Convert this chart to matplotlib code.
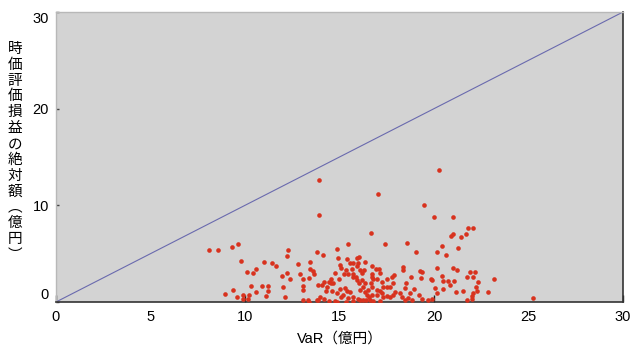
import matplotlib
matplotlib.use("Agg")
import matplotlib.pyplot as plt
from matplotlib.ticker import FixedLocator

# ---- data ----
var_oku = [
    13.93, 13.93, 8.11, 8.59, 9.33, 9.63, 9.80, 10.12, 10.44, 10.60,
    11.02, 11.44, 11.64, 12.29, 12.24, 12.79, 12.24, 12.37, 11.94, 12.91,
    13.08, 13.40, 13.46, 13.83, 14.13, 13.46, 13.62, 13.65, 14.85, 14.90,
    15.38, 15.45, 15.04, 15.06, 14.76, 15.22, 15.47, 14.97, 14.55, 14.20,
    14.43, 14.53, 14.67, 13.85, 14.07, 14.32, 14.29, 14.60, 15.04, 15.38,
    14.88, 15.20, 15.06, 13.97, 13.85, 14.20, 14.46, 14.76, 14.88, 15.43,
    15.34, 8.96, 9.38, 9.58, 9.91, 10.20, 9.88, 10.16, 10.30, 10.57,
    10.88, 11.22, 11.22, 11.10, 11.99, 12.12, 13.08, 13.08, 13.08, 13.35,
    13.40, 13.79,
    16.67, 17.41, 18.56, 19.05, 20.17, 20.62, 20.41, 21.29, 20.88, 21.02,
    21.41, 21.68, 21.81, 22.08, 15.56, 15.73, 15.94, 16.03, 16.37, 15.34,
    15.68, 15.73, 15.73, 15.94, 15.99, 16.08, 16.21, 16.30, 15.86, 15.91,
    16.17, 16.05, 16.35, 16.70, 16.72, 16.74, 16.79, 16.65, 16.70, 16.93,
    17.11, 17.14, 17.00, 17.23, 17.50, 17.32, 17.50, 17.67, 17.81, 17.76,
    17.88, 18.34, 18.34, 18.78, 18.52, 18.47, 18.20, 18.73, 18.96, 19.26,
    19.35, 19.30, 19.83, 19.89, 19.21, 19.35, 19.70, 19.88, 20.14, 20.44,
    20.49, 20.76, 21.06, 20.85, 20.99, 21.23, 20.05, 20.49, 20.14, 21.16,
    21.52, 21.73, 21.90, 22.15, 22.08, 22.31, 22.21, 22.26, 22.08, 22.03,
    21.99, 21.73, 22.84, 23.17, 25.24, 15.29, 15.56, 15.69, 15.73, 15.99,
    16.08, 16.26, 16.40, 16.61, 16.79, 17.14, 16.08, 16.26, 16.35, 16.52,
    16.44, 16.70, 16.58, 16.97, 17.14, 17.23, 16.97, 17.32, 17.50, 17.67,
    17.85, 17.94, 18.29, 18.47, 18.64, 18.82,
    20.26, 17.04, 19.47, 20.02, 20.99,
]
abs_pl_oku = [
    12.62, 9.00, 5.41, 5.35, 5.72, 5.97, 4.19, 3.10, 3.03, 3.41,
    4.11, 4.03, 3.69, 5.35, 4.73, 3.96, 3.03, 2.41, 2.72, 2.87,
    2.41, 2.51, 4.17, 5.20, 4.86, 3.41, 3.18, 2.90, 5.48, 4.58,
    4.45, 5.97, 3.83, 3.49, 2.97, 2.87, 2.87, 2.41, 2.00, 2.07,
    2.07, 2.35, 1.93, 1.73, 1.73, 1.58, 1.17, 1.14, 1.38, 1.11,
    0.90, 0.72, 0.49, 0.49, 0.21, 0.34, 0.10, 0.13, 0.03, 0.44,
    0.03, 0.80, 1.24, 0.49, 0.76, 0.76, 0.28, 0.28, 1.62, 1.07,
    1.69, 1.66, 1.17, 0.62, 1.52, 0.52, 1.69, 1.24, 0.21, 0.21,
    0.03, 0.21,
    7.11, 5.97, 6.13, 5.17, 5.17, 4.89, 5.82, 5.59, 6.86, 7.03,
    6.72, 7.03, 7.69, 7.69, 4.07, 4.07, 4.58, 4.69, 4.17, 3.31,
    3.38, 2.87, 2.56, 3.76, 4.00, 3.31, 3.03, 3.31, 2.62, 2.28,
    2.28, 1.93, 1.93, 3.76, 2.87, 2.62, 2.38, 1.93, 1.58, 3.38,
    3.38, 2.97, 2.35, 2.10, 2.41, 1.58, 1.58, 1.58, 2.00, 2.56,
    2.79, 3.59, 3.31, 2.56, 2.00, 1.42, 0.96, 0.96, 1.31, 3.24,
    3.13, 2.45, 2.41, 2.28, 0.69, 0.34, 0.21, 0.31, 3.49, 2.69,
    2.17, 2.17, 2.17, 1.79, 3.55, 3.31, 1.42, 1.31, 0.96, 1.00,
    1.17, 2.56, 3.13, 3.13, 2.62, 2.07, 1.58, 1.17, 0.96, 0.62,
    0.28, 0.21, 1.00, 2.35, 0.41, 1.42, 1.07, 0.49, 0.10, 0.28,
    0.21, 0.21, 0.21, 0.21, 0.13, 0.10, 1.24, 1.58, 1.07, 1.24,
    0.72, 0.72, 0.49, 1.24, 1.17, 0.90, 0.72, 0.55, 0.62, 0.55,
    0.72, 1.07, 0.55, 0.21, 0.38, 0.21,
    13.65, 11.17, 10.00, 8.76, 8.76,
]
diag = [0, 30]
x_major = [0, 10, 20, 30]
x_minor = [5, 15, 25]
y_ticks = [0, 10, 20, 30]
x_label = "VaR（億円）"
y_label_chars = ["時", "価", "評", "価", "損", "益", "の", "絶", "対", "額", "︵", "億", "円", "︶"]

plt.rcParams['font.family'] = ['Liberation Sans', 'Noto Sans CJK JP', 'DejaVu Sans']

fig = plt.figure(figsize=(6.3, 3.46), dpi=100)
ax = fig.add_axes([56 / 630, 44 / 346, 567 / 630, 290 / 346])
ax.set_facecolor('#d3d3d3')

ax.plot(diag, diag, color='#6a6aae', lw=0.8, zorder=2)
ax.scatter(var_oku, abs_pl_oku, s=11, color='#d8321e', linewidths=0, zorder=3)

ax.set_xlim(0, 30)
ax.set_ylim(0, 30)

ax.xaxis.set_major_locator(FixedLocator(x_major))
ax.xaxis.set_minor_locator(FixedLocator(x_minor))
ax.set_xticklabels([str(v) for v in x_major], fontsize=10.5)
ax.set_xticklabels([str(v) for v in x_minor], minor=True, fontsize=10.5)
ax.tick_params(axis='x', which='major', direction='in', length=5, width=1,
               color='#222222', pad=6)
ax.tick_params(axis='x', which='minor', direction='in', length=0, pad=6)

ax.set_yticks(y_ticks)
ylabels = ax.set_yticklabels([str(v) for v in y_ticks], fontsize=10.5)
ylabels[0].set_va('bottom')
ylabels[-1].set_va('top')
ax.tick_params(axis='y', direction='in', length=2, width=1, color='#444444', pad=5)

for side in ['left', 'top']:
    ax.spines[side].set_color('#b8b8b8')
    ax.spines[side].set_linewidth(1)
for side in ['right', 'bottom']:
    ax.spines[side].set_color('#333333')
    ax.spines[side].set_linewidth(1.2)

ax.set_xlabel(x_label, fontsize=10.5, labelpad=5)

fig.text(15 / 630, 1 - 152 / 346, "\n".join(y_label_chars), fontsize=10.5,
         ha='center', va='center', linespacing=1.17,
         family=['Noto Sans CJK JP', 'DejaVu Sans'])

fig.savefig('out.png', dpi=100)
